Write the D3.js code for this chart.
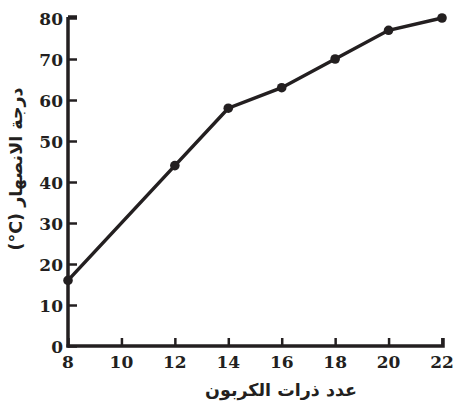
<!DOCTYPE html>
<html>
<head>
<meta charset="utf-8">
<script src="https://cdnjs.cloudflare.com/ajax/libs/d3/7.8.5/d3.min.js"></script>
<style>
  body { margin: 0; background: #fff; }
  svg { display: block; }
</style>
</head>
<body>
<svg width="454" height="404"></svg>
<script>
// carbon atoms vs melting point
var carbons = [8, 12, 14, 16, 18, 20, 22];
var meltingPoints = [16, 44, 58, 63, 70, 77, 80];
var xTicks = [8, 10, 12, 14, 16, 18, 20, 22];
var yTicks = [0, 10, 20, 30, 40, 50, 60, 70, 80];

var xTitle = "عدد ذرات الكربون";
var yTitle = "درجة الانصهار";
var yUnit = "(°C)";

var svg = d3.select("svg");
const plotLeft = 68, plotRight = 442, plotTop = 18, plotBottom = 346;
const ink = "#231f20";

var x = d3.scaleLinear().domain([8, 22]).range([plotLeft, plotRight]);
var y = d3.scaleLinear().domain([0, 80]).range([plotBottom, plotTop]);

var points = carbons.map(function(c, i) { return {c: c, t: meltingPoints[i]}; });

//y axis, ticks point inward
var yAxis = svg.append("g")
    .attr("transform", "translate(" + plotLeft + ",0)")
    .call(d3.axisRight(y).tickValues(yTicks).tickSize(9).tickFormat(""));

//x axis, ticks point up
var xAxis = svg.append("g")
    .attr("transform", "translate(0," + plotBottom + ")")
    .call(d3.axisTop(x).tickValues(xTicks).tickSize(8).tickFormat(""));

[xAxis, yAxis].forEach(function(a) {
    a.select(".domain").attr("stroke", ink).attr("stroke-width", 3.5);
    a.selectAll(".tick line").attr("stroke", ink).attr("stroke-width", 2.5);
});
yAxis.select(".domain").attr("d", "M0," + (plotTop - 1) + "H9M0," + (plotTop - 1) + "V" + (plotBottom + 1.5));
xAxis.select(".domain").attr("d", "M" + (plotLeft - 1.5) + ",0H" + (plotRight + 1) + "V-8");

//tick labels
svg.append("g").selectAll("text")
    .data(yTicks).enter().append("text")
    .attr("x", plotLeft - 5)
    .attr("y", function(d) { return y(d) + 7; })
    .attr("text-anchor", "end")
    .style("font-family", "'DejaVu Serif', serif")
    .style("font-weight", "bold")
    .style("font-size", "17px")
    .attr("fill", ink)
    .text(function(d) { return d; });

svg.append("g").selectAll("text")
    .data(xTicks).enter().append("text")
    .attr("x", function(d) { return x(d); })
    .attr("y", plotBottom + 22)
    .attr("text-anchor", "middle")
    .style("font-family", "'DejaVu Serif', serif")
    .style("font-weight", "bold")
    .style("font-size", "17px")
    .attr("fill", ink)
    .text(function(d) { return d; });

//the data line
var line = d3.line()
    .x(function(d) { return x(d.c); })
    .y(function(d) { return y(d.t); });

svg.append("path")
    .datum(points)
    .attr("d", line)
    .attr("fill", "none")
    .attr("stroke", ink)
    .attr("stroke-width", 3.5);

svg.append("g").selectAll("circle")
    .data(points).enter().append("circle")
    .attr("cx", function(d) { return x(d.c); })
    .attr("cy", function(d) { return y(d.t); })
    .attr("r", 4.8)
    .attr("fill", ink);

//axis titles
svg.append("text")
    .attr("x", 281)
    .attr("y", 396)
    .attr("text-anchor", "middle")
    .attr("direction", "rtl")
    .style("font-family", "'DejaVu Sans', sans-serif")
    .style("font-weight", "bold")
    .style("font-size", "17.5px")
    .attr("fill", ink)
    .text(xTitle);

// unit first in an ltr run so it sits at the bottom, reading (°C)
svg.append("text")
    .attr("transform", "translate(22,169) rotate(-90)")
    .attr("text-anchor", "middle")
    .style("font-family", "'DejaVu Sans', sans-serif")
    .style("font-weight", "bold")
    .style("font-size", "17.5px")
    .attr("fill", ink)
    .text(yUnit + "  " + yTitle);
</script>
</body>
</html>
